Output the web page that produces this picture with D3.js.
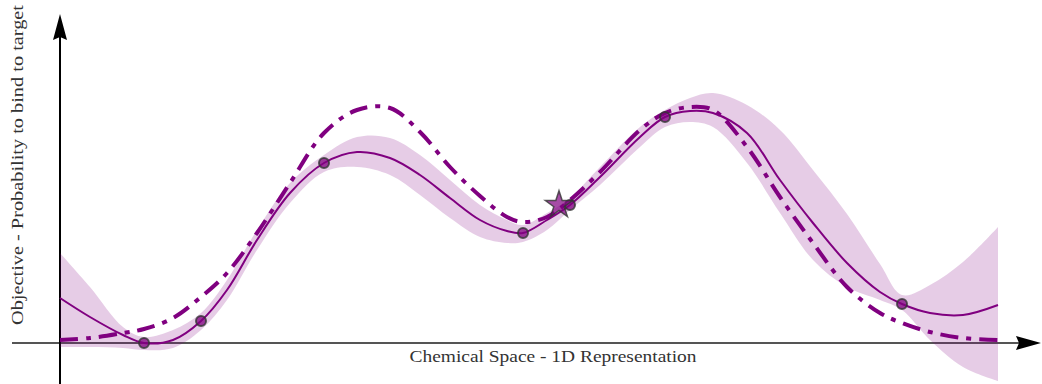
<!DOCTYPE html>
<html>
<head>
<meta charset="utf-8">
<script src="https://cdn.jsdelivr.net/npm/d3@7"></script>
<style>
  html, body { margin: 0; padding: 0; background: #fff; }
  svg { display: block; }
</style>
</head>
<body>
<svg id="chart" width="1042" height="384"></svg>
<script>
// Positions along the 1D chemical space where the curves are sampled
const xs = [0, 0.30, 0.63, 0.84, 1.13, 1.41, 1.67, 1.97, 2.30, 2.64, 2.97, 3.30, 3.60, 3.90, 4.20, 4.47, 4.63,
            4.87, 5.10, 5.40, 5.80, 6.05, 6.30, 6.53, 6.87, 7.20, 7.53, 7.87, 8.20, 8.42, 8.70, 9.03, 9.38];

// True objective (dash-dot)
const truth = [0.03, 0.05, 0.10, 0.14, 0.25, 0.46, 0.70, 1.10, 1.60, 2.10, 2.33, 2.35, 2.11, 1.76, 1.47, 1.26, 1.21,
               1.26, 1.43, 1.71, 2.13, 2.30, 2.36, 2.33, 1.96, 1.46, 1.00, 0.56, 0.30, 0.20, 0.11, 0.05, 0.03];

// Surrogate model mean (solid)
const mean = [0.45, 0.26, 0.08, 0.00, 0.03, 0.22, 0.53, 1.03, 1.50, 1.80, 1.91, 1.85, 1.68, 1.45, 1.23, 1.12, 1.10,
              1.23, 1.38, 1.66, 2.06, 2.26, 2.32, 2.30, 2.10, 1.63, 1.20, 0.80, 0.51, 0.39, 0.30, 0.28, 0.38];

// Confidence band
const upper = [0.90, 0.56, 0.16, 0.06, 0.13, 0.30, 0.63, 1.13, 1.60, 1.88, 2.06, 2.05, 1.88, 1.63, 1.38, 1.23, 1.18,
               1.30, 1.45, 1.76, 2.16, 2.33, 2.45, 2.50, 2.38, 2.13, 1.73, 1.29, 0.79, 0.48, 0.58, 0.81, 1.16];
const lower = [-0.04, -0.04, -0.05, -0.07, -0.05, 0.13, 0.43, 0.93, 1.40, 1.71, 1.76, 1.68, 1.48, 1.25, 1.06, 1.00, 1.01,
               1.13, 1.33, 1.58, 1.96, 2.16, 2.21, 2.16, 1.80, 1.30, 0.83, 0.56, 0.43, 0.33, 0.03, -0.24, -0.38];

// Evaluated molecules
const obsX = [0.84, 1.41, 2.64, 4.63, 5.10, 6.05, 8.42];
const obsY = [0.00, 0.22, 1.80, 1.10, 1.38, 2.26, 0.39];

// Next suggested candidate
const nextX = [4.99];
const nextY = [1.38];

const xLabel = "Chemical Space - 1D Representation";
const yLabel = "Objective - Probability to bind to target";

const svg = d3.select("#chart");
const purple = "#800080";

const x = d3.scaleLinear().domain([0, 9.38]).range([60, 998]);
const y = d3.scaleLinear().domain([0, 1]).range([343, 243]);

// Axes with arrow heads
svg.append("line").attr("x1", 12).attr("x2", 1022).attr("y1", y(0)).attr("y2", y(0))
  .attr("stroke", "#555").attr("stroke-width", 2);
svg.append("line").attr("x1", x(0)).attr("x2", x(0)).attr("y1", 384).attr("y2", 35)
  .attr("stroke", "#000").attr("stroke-width", 2);
svg.append("path")
  .attr("d", `M${x(0)},14 L${x(0) + 7},40 L${x(0)},37 L${x(0) - 7},40 Z`)
  .attr("fill", "#000");
svg.append("path")
  .attr("d", `M1041,${y(0)} L1016,${y(0) - 7} L1019,${y(0)} L1016,${y(0) + 7} Z`)
  .attr("fill", "#000");

const rows = xs.map((v, i) => ({ x: v, t: truth[i], m: mean[i], u: upper[i], l: lower[i] }));
const curve = d3.curveCatmullRom.alpha(0.5);

// Confidence band
svg.append("path").datum(rows)
  .attr("d", d3.area().x(d => x(d.x)).y0(d => y(d.l)).y1(d => y(d.u)).curve(curve))
  .attr("fill", purple).attr("fill-opacity", 0.2);

// True objective
svg.append("path").datum(rows)
  .attr("d", d3.line().x(d => x(d.x)).y(d => y(d.t)).curve(curve))
  .attr("fill", "none").attr("stroke", purple).attr("stroke-width", 4)
  .attr("stroke-dasharray", "18,8,5,8");

// Model mean
svg.append("path").datum(rows)
  .attr("d", d3.line().x(d => x(d.x)).y(d => y(d.m)).curve(curve))
  .attr("fill", "none").attr("stroke", purple).attr("stroke-width", 2);

svg.selectAll("circle.obs").data(obsX.map((v, i) => [v, obsY[i]]))
  .join("circle").attr("class", "obs")
  .attr("cx", d => x(d[0])).attr("cy", d => y(d[1])).attr("r", 5)
  .attr("fill", purple).attr("fill-opacity", 0.75)
  .attr("stroke", "#333").attr("stroke-opacity", 0.8).attr("stroke-width", 2);

const star = d3.symbol().type(d3.symbolStar).size(230);
svg.selectAll("path.next").data(nextX.map((v, i) => [v, nextY[i]]))
  .join("path").attr("class", "next")
  .attr("d", star)
  .attr("transform", d => `translate(${x(d[0])},${y(d[1])})`)
  .attr("fill", purple).attr("fill-opacity", 0.7)
  .attr("stroke", "#333").attr("stroke-opacity", 0.8).attr("stroke-width", 1.5);

// Axis titles
svg.append("text").text(xLabel)
  .attr("x", 553).attr("y", 362).attr("text-anchor", "middle")
  .attr("font-family", "Liberation Serif, DejaVu Serif, serif").attr("font-size", 17)
  .attr("fill", "#333").attr("textLength", 287).attr("lengthAdjust", "spacingAndGlyphs");

svg.append("text").text(yLabel)
  .attr("transform", "translate(23,165) rotate(-90)").attr("text-anchor", "middle")
  .attr("font-family", "Liberation Serif, DejaVu Serif, serif").attr("font-size", 17)
  .attr("fill", "#333").attr("textLength", 320).attr("lengthAdjust", "spacingAndGlyphs");
</script>
</body>
</html>
